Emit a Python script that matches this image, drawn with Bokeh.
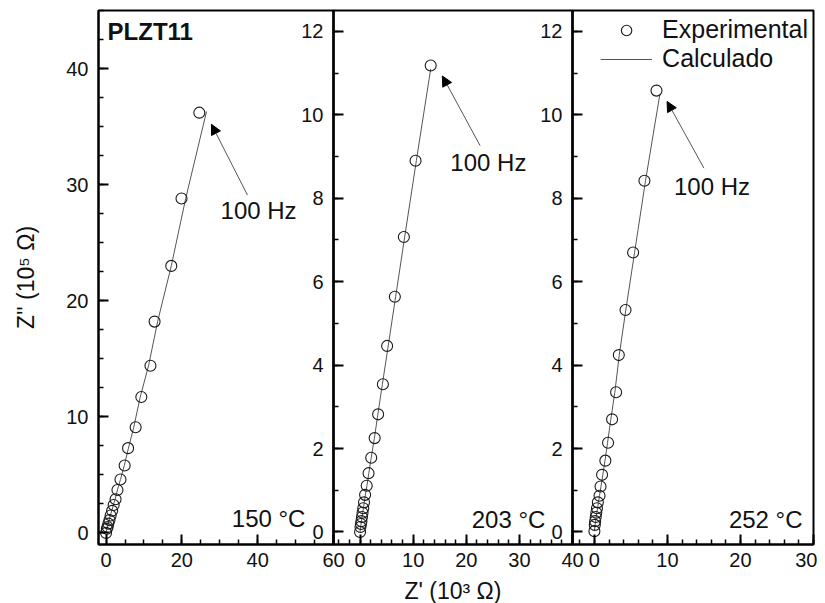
from bokeh.plotting import figure
from bokeh.layouts import row
from bokeh.models import (Range1d, Label, Arrow, NormalHead, Legend, LegendItem,
                          SingleIntervalTicker)
from bokeh.embed import file_html
from bokeh.resources import INLINE

FONT = "Liberation Sans"
INK = "#111111"

# ---------------- data (Z' in 10^3 ohm, Z'' in 10^5 ohm) ----------------
# 150 °C
exp150_re = [24.6, 19.9, 17.2, 12.8, 11.7, 9.3, 7.8, 5.8, 4.9, 3.8, 3.0, 2.5, 2.0, 1.6, 1.2, 0.9, 0.6, 0.4, 0.2, 0.0]
exp150_im = [36.2, 28.8, 23.0, 18.2, 14.4, 11.7, 9.1, 7.3, 5.8, 4.6, 3.7, 2.9, 2.4, 1.9, 1.5, 1.1, 0.8, 0.5, 0.35, 0.0]
cal150_re = [26.5, 21.0, 17.2, 13.6, 11.2, 9.0, 7.3, 5.9, 4.8, 3.8, 3.0, 2.4, 1.9, 1.5, 1.1, 0.8, 0.55, 0.35, 0.2, 0.0]
cal150_im = [36.3, 28.8, 23.0, 18.2, 14.4, 11.7, 9.1, 7.3, 5.8, 4.6, 3.7, 2.9, 2.4, 1.9, 1.5, 1.1, 0.8, 0.5, 0.35, 0.0]

# 203 °C
exp203_re = [13.3, 10.45, 8.25, 6.55, 5.1, 4.3, 3.4, 2.75, 2.1, 1.6, 1.25, 0.95, 0.75, 0.6, 0.47, 0.36, 0.26, 0.17, 0.08, 0.0]
exp203_im = [11.18, 8.9, 7.07, 5.64, 4.46, 3.54, 2.82, 2.25, 1.78, 1.41, 1.11, 0.89, 0.71, 0.57, 0.46, 0.36, 0.26, 0.19, 0.12, 0.0]
cal203_re = [13.3, 10.6, 8.4, 6.7, 5.3, 4.2, 3.35, 2.7, 2.1, 1.65, 1.3, 1.0, 0.8, 0.63, 0.5, 0.38, 0.27, 0.18, 0.1, 0.0]
cal203_im = [11.1, 8.9, 7.07, 5.64, 4.46, 3.54, 2.82, 2.25, 1.78, 1.41, 1.11, 0.89, 0.71, 0.57, 0.46, 0.36, 0.26, 0.19, 0.12, 0.0]

# 252 °C
exp252_re = [8.5, 6.85, 5.3, 4.26, 3.34, 2.97, 2.42, 1.87, 1.5, 1.05, 0.84, 0.7, 0.47, 0.35, 0.26, 0.18, 0.1, 0.05, 0.0]
exp252_im = [10.58, 8.42, 6.7, 5.32, 4.24, 3.35, 2.70, 2.14, 1.71, 1.37, 1.09, 0.87, 0.71, 0.57, 0.46, 0.36, 0.26, 0.17, 0.02]
cal252_re = [8.95, 7.0, 5.5, 4.3, 3.4, 2.8, 2.25, 1.8, 1.45, 1.15, 0.9, 0.7, 0.55, 0.43, 0.33, 0.24, 0.16, 0.09, 0.0]
cal252_im = [10.48, 8.42, 6.7, 5.32, 4.24, 3.35, 2.70, 2.14, 1.71, 1.37, 1.09, 0.87, 0.71, 0.57, 0.46, 0.36, 0.26, 0.17, 0.02]

temps = ["150 °C", "203 °C", "252 °C"]
freq_label = "100 Hz"

FRAME_H = 534


def make_panel(xr, yr, frame_w, xtick, xminor, ytick, yminor, left_border, right_border):
    p = figure(frame_width=frame_w, frame_height=FRAME_H,
               x_range=Range1d(*xr), y_range=Range1d(*yr),
               output_backend="svg", toolbar_location=None,
               min_border_left=left_border, min_border_right=right_border,
               min_border_top=10, min_border_bottom=40)
    p.xgrid.visible = False
    p.ygrid.visible = False
    p.background_fill_color = None
    p.border_fill_color = None
    p.outline_line_color = "black"
    p.outline_line_width = 2
    p.xaxis.ticker = SingleIntervalTicker(interval=xtick, num_minor_ticks=xminor)
    p.yaxis.ticker = SingleIntervalTicker(interval=ytick, num_minor_ticks=yminor)
    for ax in (p.xaxis[0], p.yaxis[0]):
        ax.axis_line_width = 2
        ax.axis_line_color = "black"
        ax.major_tick_in = 10
        ax.major_tick_out = 0
        ax.minor_tick_in = 5
        ax.minor_tick_out = 0
        ax.major_tick_line_width = 2
        ax.minor_tick_line_width = 1.5
        ax.major_tick_line_color = "black"
        ax.minor_tick_line_color = "black"
        ax.major_label_text_font = FONT
        ax.major_label_text_font_size = "20px"
        ax.major_label_text_color = INK
        ax.axis_label_text_font = FONT
        ax.axis_label_text_font_size = "23px"
        ax.axis_label_text_font_style = "normal"
        ax.axis_label_text_color = INK
    p.xaxis.major_label_standoff = 8
    p.yaxis.major_label_standoff = 10
    return p


def draw(p, xe, ye, xc, yc):
    ln = p.line(xc, yc, line_color="#555555", line_width=1)
    sc = p.scatter(xe, ye, marker="circle", size=11, fill_color=None,
                   line_color="#1a1a1a", line_width=1.1)
    return sc, ln


def annotate(p, tail, head, txt_pos, temp_pos, temp_text):
    p.add_layout(Arrow(end=NormalHead(size=10, fill_color="black", line_color="black"),
                       x_start=tail[0], y_start=tail[1], x_end=head[0], y_end=head[1],
                       line_color="#555555", line_width=1))
    p.add_layout(Label(x=txt_pos[0], y=txt_pos[1], text=freq_label, text_font=FONT,
                       text_font_size="24px", text_color=INK,
                       text_align="left", text_baseline="middle"))
    p.add_layout(Label(x=temp_pos[0], y=temp_pos[1], text=temp_text, text_font=FONT,
                       text_font_size="24px", text_color=INK,
                       text_align="right", text_baseline="middle"))


# Panel 1
p1 = make_panel((-2, 60), (-1, 45), 235, 20, 4, 10, 4, 98, 15)
p1.yaxis.axis_label = "Z'' (10⁵ Ω)"
p1.yaxis.axis_label_standoff = 24
draw(p1, exp150_re, exp150_im, cal150_re, cal150_im)
annotate(p1, (37.3, 29.1), (27.8, 35.2), (30.2, 27.8), (52.6, 1.2), temps[0])
p1.add_layout(Label(x=0.4, y=43.2, text="PLZT11", text_font=FONT, text_font_size="24px",
                    text_font_style="bold", text_color=INK, text_align="left",
                    text_baseline="middle"))

# Panel 2
p2 = make_panel((-5, 40), (-0.3, 12.5), 239, 10, 5, 2, 2, 40, 15)
p2.xaxis.axis_label = "Z' (10³ Ω)"
p2.xaxis.axis_label_standoff = 8
p2.margin = (0, 0, 0, -55)
draw(p2, exp203_re, exp203_im, cal203_re, cal203_im)
annotate(p2, (22.6, 9.26), (15.5, 10.93), (17.0, 8.86), (34.9, 0.29), temps[1])

# Panel 3
p3 = make_panel((-3, 30), (-0.3, 12.5), 241, 10, 5, 2, 2, 40, 4)
p3.margin = (0, 0, 0, -55)
sc3, ln3 = draw(p3, exp252_re, exp252_im, cal252_re, cal252_im)
annotate(p3, (15.0, 8.72), (9.95, 10.32), (10.9, 8.28), (28.5, 0.29), temps[2])
legend = Legend(items=[LegendItem(label="Experimental", renderers=[sc3]),
                       LegendItem(label="Calculado", renderers=[ln3])],
                location="top_right", glyph_width=52, glyph_height=26,
                label_height=26, label_standoff=10, spacing=0, padding=0, margin=5,
                border_line_color=None, background_fill_alpha=0,
                label_text_font=FONT, label_text_font_size="25px", label_text_color=INK)
p3.add_layout(legend)

layout = row(p1, p2, p3, spacing=0)
open("out.html", "w").write(file_html(layout, INLINE))
